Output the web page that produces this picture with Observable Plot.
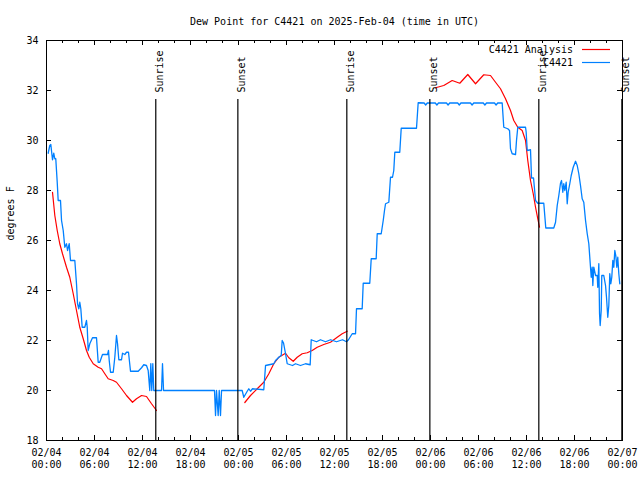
<!DOCTYPE html>
<html><head><meta charset="utf-8">
<script src="https://cdn.jsdelivr.net/npm/d3@7"></script>
<script src="https://cdn.jsdelivr.net/npm/@observablehq/plot@0.6"></script>
<style>html,body{margin:0;padding:0;background:#fff;} svg{display:block;}</style>
</head><body><div id="chart"></div>
<script>
const titleText = "Dew Point for C4421 on 2025-Feb-04 (time in UTC)";
const yLabel = "degrees F";
const seriesNames = ["C4421 Analysis", "C4421"];
const seriesColors = ["#ff0000", "#0080ff"];
const xTickHours = [0, 6, 12, 18, 24, 30, 36, 42, 48, 54, 60, 66, 72];
const xMinorHours = [2, 4, 8, 10, 14, 16, 20, 22, 26, 28, 32, 34, 38, 40, 44, 46, 50, 52, 56, 58, 62, 64, 68, 70];
const yTicks = [18, 20, 22, 24, 26, 28, 30, 32, 34];
const sunHours = [13.66, 23.92, 37.54, 47.92, 61.54, 71.92];
const sunLabels = ["Sunrise", "Sunset", "Sunrise", "Sunset", "Sunrise", "Sunset"];

// C4421 observations (hours since 2025-02-04 00:00 UTC, dew point °F)
const obsHours = [0.21,0.41,0.54,0.75,0.91,1.04,1.16,1.34,1.46,1.75,1.88,2.09,2.29,2.5,2.63,2.84,3.0,3.54,3.75,3.88,4.04,4.16,4.29,4.46,4.79,5.0,5.09,5.21,5.41,5.75,6.25,6.46,6.66,7.0,7.63,7.75,7.84,8.0,8.34,8.54,8.75,8.88,9.04,9.38,9.5,9.79,10.0,10.25,10.5,11.46,11.88,12.16,12.5,12.71,12.91,13.04,13.16,13.29,13.41,14.38,14.5,14.63,21.0,21.13,21.25,21.46,21.59,21.75,21.88,24.46,24.66,25.09,25.29,25.5,25.75,27.16,27.38,28.41,28.63,29.04,29.34,29.46,29.63,29.88,30.09,30.75,31.13,31.75,32.38,32.96,33.09,33.75,34.25,34.88,35.5,36.25,37.0,37.5,37.75,38.21,38.63,38.75,39.46,39.59,40.41,40.59,41.21,41.34,41.84,42.09,42.25,42.38,42.79,43.0,43.25,43.41,43.54,44.16,44.34,46.25,46.46,47.2,47.4,47.6,48.6,48.8,49.0,50.0,50.2,50.4,51.4,51.6,51.8,53.0,53.2,53.4,54.6,54.8,55.0,56.0,56.2,56.4,56.96,57.16,57.66,57.88,58.0,58.21,58.63,58.75,58.91,59.88,59.96,60.09,60.5,60.63,60.88,61.13,61.41,62.16,62.41,63.41,63.63,63.84,64.04,64.25,64.38,64.54,64.66,64.79,64.96,65.09,65.21,65.41,65.59,65.84,66.13,66.34,66.54,66.75,66.96,67.16,67.38,67.59,67.79,67.91,68.09,68.21,68.29,68.41,68.63,68.84,68.91,69.04,69.13,69.21,69.34,69.41,69.66,69.88,70.0,70.16,70.29,70.41,70.54,70.66,70.79,70.91,71.04,71.16,71.29,71.41,71.54,71.66];
const obsDewF = [29.49,29.8,29.84,29.23,29.49,29.27,29.27,28.33,27.6,27.6,26.8,26.4,25.73,25.87,25.6,25.87,25.2,25.2,24.27,23.47,23.27,23.53,23.27,22.53,22.53,22.8,22.53,21.6,21.87,22.11,22.11,21.13,21.13,21.44,21.44,21.6,21.2,20.73,20.73,21.33,22.2,21.87,21.23,21.23,21.49,21.44,21.53,21.53,20.77,20.77,20.91,21.03,21.0,20.8,20.0,21.07,20.0,21.07,20.0,20.0,21.07,20.0,20.0,19.0,20.0,19.0,20.0,19.0,20.0,20.0,19.73,19.97,20.07,19.97,20.07,20.03,21.0,21.07,21.2,21.33,21.4,22.0,21.9,21.47,21.07,21.0,21.07,21.0,21.07,21.03,22.03,21.95,22.03,21.95,22.03,21.95,22.03,21.95,22.03,22.27,22.27,23.27,23.27,24.29,24.29,25.27,25.27,26.27,26.27,26.8,27.2,27.47,27.53,28.53,28.53,28.8,29.53,29.53,30.49,30.49,31.51,31.5,31.42,31.5,31.5,31.42,31.5,31.5,31.42,31.5,31.5,31.42,31.5,31.5,31.42,31.5,31.5,31.42,31.5,31.5,31.42,31.5,31.5,30.53,30.47,30.4,29.67,29.47,29.44,30.0,30.53,30.53,30.33,29.6,29.63,28.5,28.5,27.6,27.49,27.49,26.5,26.5,26.73,27.4,27.8,28.29,28.4,27.93,28.27,28.0,28.33,27.47,27.93,28.27,28.6,28.93,29.17,29.0,28.67,28.2,27.67,27.53,26.8,26.27,25.87,25.33,24.53,24.93,24.2,24.93,24.6,24.6,24.13,25.07,23.07,22.6,23.2,24.6,24.6,24.2,23.73,22.93,23.4,24.67,24.27,24.53,25.2,24.93,25.6,25.4,24.93,25.33,24.67,24.27];

// C4421 Analysis (null = gap in the analysis line)
const anaHours = [0.75,1.04,1.34,1.66,2.0,2.5,2.91,3.34,3.75,4.16,4.59,5.0,5.34,5.84,6.46,6.88,7.29,7.71,8.34,8.75,9.38,10.0,10.75,11.25,11.88,12.5,13.13,13.75,null,24.79,25.5,26.34,27.16,27.79,28.41,29.04,29.88,30.29,30.84,31.34,31.96,32.59,33.21,33.84,34.66,35.5,36.34,36.96,37.59,null,48.63,49.66,50.71,51.66,52.66,53.63,54.66,55.5,56.13,56.75,57.38,58.0,58.41,58.91,59.46,59.88,60.16,60.5,60.84,61.13,61.41,61.63];
const anaDewF = [27.93,27.0,26.4,25.87,25.47,24.93,24.53,23.87,23.2,22.53,22.07,21.6,21.33,21.07,20.93,20.87,20.67,20.47,20.4,20.33,20.07,19.8,19.53,19.67,19.8,19.76,19.47,19.2,null,19.52,19.8,20.07,20.33,20.67,21.07,21.33,21.49,21.31,21.17,21.33,21.47,21.51,21.6,21.73,21.84,21.93,22.13,22.27,22.37,null,32.11,32.2,32.4,32.29,32.64,32.27,32.63,32.6,32.33,32.07,31.67,31.2,30.8,30.53,30.4,30.0,29.2,28.4,27.87,27.33,26.87,26.53];

const t0 = Date.UTC(2025, 1, 4);
const toDate = h => (h == null ? null : new Date(t0 + h * 3600000));
const obs = obsHours.map((h, i) => ({t: toDate(h), v: obsDewF[i]}));
const ana = anaHours.map((h, i) => ({t: toDate(h), v: anaDewF[i]}));
const sun = sunHours.map((h, i) => ({t: toDate(h), label: sunLabels[i]}));
const xMajor = xTickHours.map(toDate);
const xMinor = xMinorHours.map(toDate);
const fmt = d3.utcFormat("%m/%d\n%H:%M");
const FONT = "'DejaVu Sans Mono', monospace";

const chart = Plot.plot({
  width: 640, height: 480,
  marginTop: 40, marginBottom: 40, marginLeft: 46, marginRight: 18,
  style: {fontFamily: FONT, fontSize: "10px", background: "#fff", color: "#000"},
  x: {type: "utc", domain: [toDate(0), toDate(72)], axis: null},
  y: {domain: [18, 34], axis: null},
  marks: [
    Plot.line(ana, {x: "t", y: "v", stroke: seriesColors[0], strokeWidth: 1.2}),
    Plot.line(obs, {x: "t", y: "v", stroke: seriesColors[1], strokeWidth: 1.3}),
    Plot.ruleX(sun, {x: "t", insetTop: 59, stroke: "#000", strokeWidth: 1.2}),
    Plot.text(sun, {x: "t", text: "label", frameAnchor: "top", dy: 52, rotate: -90, textAnchor: "start", fill: "#000"}),
    Plot.ruleX(xMajor, {x: d => d, insetTop: 395, stroke: "#000"}),
    Plot.ruleX(xMajor, {x: d => d, insetBottom: 395, stroke: "#000"}),
    Plot.ruleX(xMinor, {x: d => d, insetTop: 397, stroke: "#000"}),
    Plot.ruleX(xMinor, {x: d => d, insetBottom: 397, stroke: "#000"}),
    Plot.ruleY(yTicks, {y: d => d, insetRight: 571, stroke: "#000"}),
    Plot.ruleY(yTicks, {y: d => d, insetLeft: 571, stroke: "#000"}),
    Plot.axisX(xMajor, {anchor: "bottom", tickSize: 0, tickPadding: 7, tickFormat: fmt, label: null, lineHeight: 1.2}),
    Plot.axisY(yTicks, {anchor: "left", tickSize: 0, tickPadding: 8, label: null}),
    Plot.frame({stroke: "#000"}),
    Plot.text([titleText], {frameAnchor: "top", dy: -23, text: d => d, fill: "#000"}),
    Plot.text([yLabel], {frameAnchor: "left", dx: -36, rotate: -90, text: d => d, fill: "#000"})
  ]
});

const svg = d3.select(chart);
const lg = svg.append("g").attr("font-family", FONT).attr("font-size", 10);
seriesNames.forEach((name, i) => {
  const y = 49.5 + i * 13;
  lg.append("text").attr("x", 573).attr("y", y).attr("dy", "0.32em").attr("text-anchor", "end").attr("fill", "#000").text(name);
  lg.append("line").attr("x1", 582).attr("x2", 610).attr("y1", y).attr("y2", y).attr("stroke", seriesColors[i]).attr("stroke-width", 1.2);
});
document.getElementById("chart").appendChild(chart);
</script>
</body></html>
